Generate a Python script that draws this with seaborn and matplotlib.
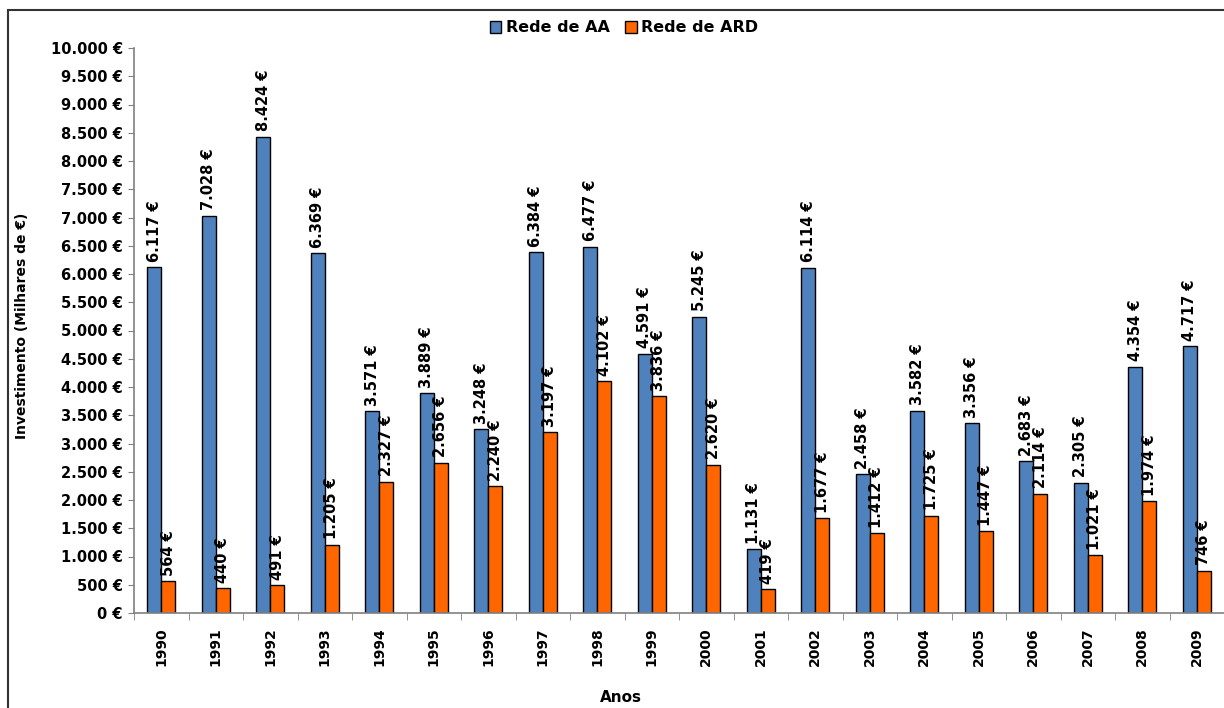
import pandas as pd
import seaborn as sns
import matplotlib.pyplot as plt
import matplotlib.patches as mpatches
from matplotlib.ticker import FuncFormatter, MultipleLocator

plt.rcParams['font.family'] = ['DejaVu Sans']
plt.rcParams['font.weight'] = 'bold'

anos = [str(a) for a in range(1990, 2010)]
rede_aa = [6117, 7028, 8424, 6369, 3571, 3889, 3248, 6384, 6477, 4591,
           5245, 1131, 6114, 2458, 3582, 3356, 2683, 2305, 4354, 4717]
rede_ard = [564, 440, 491, 1205, 2327, 2656, 2240, 3197, 4102, 3836,
            2620, 419, 1677, 1412, 1725, 1447, 2114, 1021, 1974, 746]
series = ['Rede de AA', 'Rede de ARD']
colors = {'Rede de AA': '#4F81BD', 'Rede de ARD': '#FF6600'}

df = pd.DataFrame({
    'Anos': anos * 2,
    'valor': rede_aa + rede_ard,
    'serie': [series[0]] * len(anos) + [series[1]] * len(anos),
})


def euro(v, pos=None):
    return f'{int(round(v)):,}'.replace(',', '.') + ' €'


fig = plt.figure(figsize=(12.24, 7.08), dpi=100)
ax = fig.add_axes([134 / 1224, 1 - 613 / 708, 1 - 134 / 1224, (613 - 48) / 708])

sns.barplot(data=df, x='Anos', y='valor', hue='serie', hue_order=series,
            palette=colors, width=0.51, edgecolor='black', linewidth=1,
            saturation=1, ax=ax, legend=False)

for cont in ax.containers:
    ax.bar_label(cont, labels=[euro(b.get_height()) for b in cont],
                 rotation=90, padding=4, fontsize=10.5, fontweight='bold')

ax.set_ylim(0, 10000)
ax.set_xlim(-0.5, len(anos) - 0.5)
ax.yaxis.set_major_locator(MultipleLocator(500))
ax.yaxis.set_major_formatter(FuncFormatter(euro))
ax.tick_params(axis='y', labelsize=10.5, length=4, color='#808080', pad=4)
ax.tick_params(axis='x', which='major', length=0, labelsize=10, labelrotation=90, pad=10)
ax.set_xticks([i - 0.5 for i in range(len(anos) + 1)], minor=True)
ax.tick_params(axis='x', which='minor', length=5, color='#808080')
for lbl in ax.get_yticklabels() + ax.get_xticklabels():
    lbl.set_fontweight('bold')

for s in ['top', 'right']:
    ax.spines[s].set_visible(False)
for s in ['left', 'bottom']:
    ax.spines[s].set_color('#808080')
    ax.spines[s].set_linewidth(1.2)

ax.set_xlabel('')
ax.set_ylabel('')
fig.text(621 / 1224, 1 - 697 / 708, 'Anos', ha='center', va='center',
         fontsize=11, fontweight='bold')
fig.text(22 / 1224, 1 - 326 / 708, 'Investimento (Milhares de €)', ha='center',
         va='center', rotation=90, fontsize=10, fontweight='bold')

handles = [mpatches.Patch(facecolor=colors[s], edgecolor='black', linewidth=1) for s in series]
fig.legend(handles, series, loc='center', bbox_to_anchor=(624 / 1224, 1 - 28 / 708),
           ncol=2, frameon=False, handlelength=0.7, handleheight=0.7,
           handletextpad=0.3, columnspacing=1.0, prop={'weight': 'bold', 'size': 11.5})

border = mpatches.Rectangle((8 / 1224, -0.1), 1.2, 1 - 10 / 708 + 0.1,
                            transform=fig.transFigure, fill=False,
                            edgecolor='#333333', linewidth=1.5)
fig.patches.append(border)

fig.savefig('out.png', dpi=100)
